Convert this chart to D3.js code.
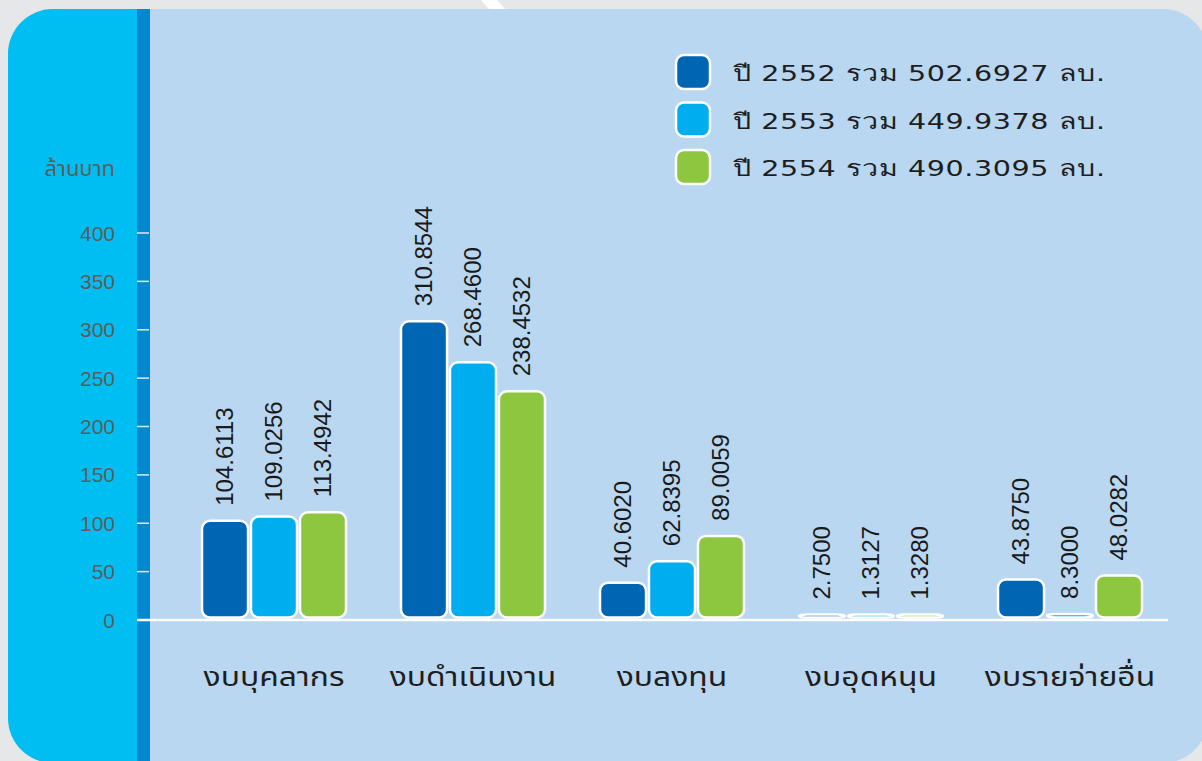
<!DOCTYPE html>
<html>
<head>
<meta charset="utf-8">
<script src="https://cdnjs.cloudflare.com/ajax/libs/d3/7.8.5/d3.min.js"></script>
<style>
  body { margin: 0; background: #e6e7e9; }
  svg { display: block; }
</style>
</head>
<body>
<svg id="chart" width="1202" height="761"></svg>
<script>
// data
const categories = ["งบบุคลากร", "งบดำเนินงาน", "งบลงทุน", "งบอุดหนุน", "งบรายจ่ายอื่น"]
const years = ["2552", "2553", "2554"]
const totals = ["502.6927", "449.9378", "490.3095"]
const values2552 = [104.6113, 310.8544, 40.6020, 2.7500, 43.8750]
const values2553 = [109.0256, 268.4600, 62.8395, 1.3127, 8.3000]
const values2554 = [113.4942, 238.4532, 89.0059, 1.3280, 48.0282]
const labels2552 = ["104.6113", "310.8544", "40.6020", "2.7500", "43.8750"]
const labels2553 = ["109.0256", "268.4600", "62.8395", "1.3127", "8.3000"]
const labels2554 = ["113.4942", "238.4532", "89.0059", "1.3280", "48.0282"]
const yTicks = [0, 50, 100, 150, 200, 250, 300, 350, 400]

const colors = ["#0066b3", "#00aeef", "#8dc63f"]
const seriesValues = [values2552, values2553, values2554]
const seriesLabels = [labels2552, labels2553, labels2554]

const svg = d3.select("#chart")

// panel background
const defs = svg.append("defs")
defs.append("clipPath").attr("id", "panelClip")
    .append("rect")
    .attr("x", 8).attr("y", 9)
    .attr("width", 1200).attr("height", 754)
    .attr("rx", 45)

const panel = svg.append("g").attr("clip-path", "url(#panelClip)")
panel.append("rect").attr("x", 0).attr("y", 0).attr("width", 1210).attr("height", 770).attr("fill", "#b9d7f0")
panel.append("rect").attr("x", 0).attr("y", 0).attr("width", 137).attr("height", 770).attr("fill", "#00bef2")
panel.append("rect").attr("x", 137).attr("y", 0).attr("width", 13).attr("height", 770).attr("fill", "#0089d0")

// little white sliver at the top edge
svg.append("path")
    .attr("d", "M481,0 L497,0 L505,9 L489,9 Z")
    .attr("fill", "#ffffff")

// scales
const y = d3.scaleLinear().domain([0, 400]).range([620, 233])

const x0 = d3.scaleBand()
    .domain(categories)
    .range([174.5, 1169.5])

const x1 = d3.scaleBand()
    .domain(years)
    .range([x0.bandwidth() / 2 - 72, x0.bandwidth() / 2 + 72])
    .paddingInner(0.06)

// y axis ticks + labels
const yAxis = svg.append("g")
yAxis.selectAll("line.tick")
    .data(yTicks)
    .join("line")
    .attr("class", "tick")
    .attr("x1", 137).attr("x2", 149)
    .attr("y1", d => y(d)).attr("y2", d => y(d))
    .attr("stroke", "#ffffff")
    .attr("stroke-opacity", 0.85)
    .attr("stroke-width", 1.5)

yAxis.selectAll("text")
    .data(yTicks)
    .join("text")
    .attr("x", 115)
    .attr("y", d => y(d) + 7.5)
    .attr("text-anchor", "end")
    .attr("font-family", "'Liberation Sans', Arial, sans-serif")
    .attr("font-size", 21)
    .attr("fill", "#5c5c5c")
    .text(d => d)

svg.append("text")
    .attr("x", 115).attr("y", 176)
    .attr("text-anchor", "end")
    .attr("font-family", "'Noto Sans Thai', 'Liberation Sans', sans-serif")
    .attr("font-size", 22)
    .attr("fill", "#5c5c5c")
    .text("ล้านบาท")

// bars
const barBottom = y(0) - 2.5
const groups = svg.append("g").selectAll("g")
    .data(categories)
    .join("g")
    .attr("transform", d => `translate(${x0(d)},0)`)

const barData = (c, i) => years.map((yr, s) => ({
    year: yr, s: s, value: seriesValues[s][i], label: seriesLabels[s][i]
}))

const barTop = d => Math.min(y(d.value) + 2, barBottom - 3)

groups.selectAll("rect")
    .data(barData)
    .join("rect")
    .attr("x", d => x1(d.year))
    .attr("width", x1.bandwidth())
    .attr("y", barTop)
    .attr("height", d => barBottom - barTop(d))
    .attr("rx", 8)
    .attr("fill", d => colors[d.s])
    .attr("stroke", "#ffffff")
    .attr("stroke-width", 2.5)

groups.selectAll("text")
    .data(barData)
    .join("text")
    .attr("transform", d => {
        let tx = x1(d.year) + x1.bandwidth() / 2 + 8
        let ty = barTop(d) - 15
        return `translate(${tx},${ty}) rotate(-90)`
    })
    .attr("font-family", "'Liberation Sans', Arial, sans-serif")
    .attr("font-size", 24)
    .attr("fill", "#1a1a1a")
    .text(d => d.label)

// baseline
svg.append("line")
    .attr("x1", 137).attr("x2", 1168)
    .attr("y1", y(0)).attr("y2", y(0))
    .attr("stroke", "#ffffff")
    .attr("stroke-width", 2.5)

// category labels (stretched wide like the original lettering)
svg.append("g").selectAll("text")
    .data(categories)
    .join("text")
    .attr("transform", d => `translate(${x0(d) + x0.bandwidth() / 2},686) scale(1.18,1)`)
    .attr("text-anchor", "middle")
    .attr("font-family", "'Noto Sans Thai', 'DejaVu Sans', sans-serif")
    .attr("font-size", 27)
    .attr("fill", "#1e1e1e")
    .text(d => d)

// legend
const legend = svg.append("g").selectAll("g")
    .data(years)
    .join("g")
    .attr("transform", (d, i) => `translate(676,${55 + i * 47.5})`)

legend.append("rect")
    .attr("width", 34).attr("height", 34)
    .attr("rx", 8)
    .attr("fill", (d, i) => colors[i])
    .attr("stroke", "#ffffff")
    .attr("stroke-width", 2.5)

legend.append("text")
    .attr("transform", "translate(57,26) scale(1.3,1)")
    .attr("font-family", "'DejaVu Sans', sans-serif")
    .attr("font-size", 22)
    .attr("fill", "#1e1e1e")
    .attr("textLength", 372 / 1.3)
    .attr("lengthAdjust", "spacing")
    .text((d, i) => `ปี ${d} รวม ${totals[i]} ลบ.`)
</script>
</body>
</html>
